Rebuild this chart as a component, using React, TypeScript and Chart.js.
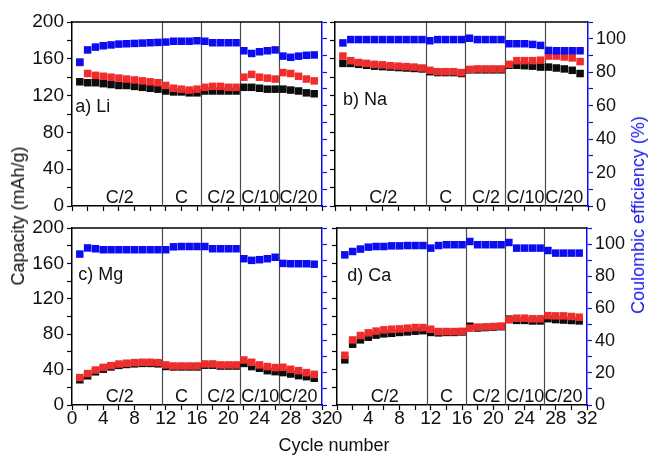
import React, { useEffect, useRef } from 'react';
import { Chart, registerables } from 'chart.js';

Chart.register(...registerables);

const FONT_FAMILY = '"Liberation Sans", Arial, sans-serif';
Chart.defaults.font.family = FONT_FAMILY;

// Cycle numbers (categories)
const cycles = [1, 2, 3, 4, 5, 6, 7, 8, 9, 10, 11, 12, 13, 14, 15, 16, 17, 18, 19, 20, 21, 22, 23, 24, 25, 26, 27, 28, 29, 30, 31];

// a) Li
const liCharge = [156, 144, 142, 141, 140, 139, 138, 137, 136, 135, 134, 131, 128, 127, 126, 127, 129, 130, 130, 129, 129, 140, 143, 140, 139, 138, 145, 144, 141, 138, 136];
const liDischarge = [135, 134, 134, 133, 132, 131, 131, 130, 129, 128, 127, 125, 124, 124, 123, 123, 125, 125, 125, 125, 125, 129, 129, 128, 127, 127, 127, 126, 125, 123, 122];
const liCE = [86, 93.3, 95, 95.8, 96.3, 96.8, 97, 97.2, 97.4, 97.6, 97.8, 98, 98.5, 98.5, 98.5, 98.8, 98.5, 97.6, 97.6, 97.6, 97.6, 92.8, 91.2, 92.2, 92.8, 93.3, 89.6, 88.9, 89.6, 90.1, 90.3];

// b) Na
const naCharge = [163, 158, 156, 155, 154, 153.5, 152.5, 152, 151.5, 151, 150, 147.5, 146, 146, 146, 145, 148.5, 149, 149, 149, 149, 154, 158, 158, 158, 158.5, 163, 163, 162, 161, 157];
const naDischarge = [155, 155, 154, 153, 152, 151.5, 151, 150.5, 150, 149.5, 149, 146, 145, 145, 145, 144, 148, 148, 148, 148, 148, 153, 153, 152.5, 152, 151, 151, 150, 149, 147.5, 144];
const naCE = [97.5, 99.5, 99.5, 99.5, 99.5, 99.5, 99.5, 99.5, 99.5, 99.5, 99.5, 98.8, 99.5, 99.5, 99.5, 99.5, 100.3, 99.5, 99.5, 99.5, 99.5, 97, 97, 97, 96.6, 96, 93, 92.8, 92.8, 92.8, 92.8];

// c) Mg
const mgCharge = [31, 35.5, 39.5, 42.5, 44.5, 46.3, 47.2, 47.9, 48.3, 48.3, 47.9, 45.3, 44.1, 44.1, 44.1, 44.1, 46.4, 46.4, 45.3, 45.3, 45.3, 50.9, 48.3, 45.3, 43.4, 42.3, 42.6, 40.4, 38.8, 36.6, 34.7];
const mgDischarge = [28.5, 33, 37.5, 40.5, 43, 44.8, 45.8, 46.5, 47, 47, 46.5, 43.5, 43, 43, 43, 43, 45, 45, 44, 44, 44, 47, 43.4, 41.5, 38.8, 37.7, 36.6, 35, 33.2, 32, 30.2];
const mgCE = [93.8, 97.6, 97.1, 96.5, 96.5, 96.5, 96.5, 96.5, 96.5, 96.5, 96.5, 96.5, 98.3, 98.5, 98.5, 98.5, 98.5, 97.1, 97.1, 97.1, 97.1, 90.9, 89.9, 90.3, 90.9, 91.8, 88, 87.8, 87.8, 87.8, 87.5];

// d) Ca
const caCharge = [56.2, 73.5, 78.5, 81.5, 83.5, 84.9, 85.6, 86, 86.8, 87.5, 87.5, 85.6, 83, 83, 83, 83.3, 86.8, 88, 88.3, 88.7, 89.2, 96.2, 98.1, 98.1, 97.4, 97.4, 101, 100.7, 100.7, 100, 99.2];
const caDischarge = [51, 68.7, 73.6, 76.6, 79, 80.4, 81, 82, 82.6, 83.4, 84, 82, 81.5, 82, 82, 82.5, 89, 87, 87.5, 88, 88.5, 97, 95.6, 95.6, 95, 95, 97.5, 96.5, 96, 95.5, 95];
const caCE = [93.3, 95.4, 96.9, 98.1, 98.5, 98.5, 98.9, 98.9, 99.1, 99.1, 99.1, 97.5, 99.1, 99.6, 99.6, 99.6, 101.6, 99.6, 99.6, 99.6, 99.6, 101, 97.5, 97.5, 97.5, 97.5, 96, 94.4, 94.4, 94.4, 94.4];

// Rate annotations
const rateLabels = ['C/2', 'C', 'C/2', 'C/10', 'C/20'];
const rateLabelCycles = [6.1, 14, 19.1, 24.1, 29];
const rateBoundaries = [11.5, 16.5, 21.5, 26.5];
const rateLabelCapacity = 9;

const BLUE = '#0c0cf0';
const RED = '#f02c2c';
const BLACK = '#0d0d0d';
const TXT = '#111111';

type Box = { l: number; r: number; t: number; b: number };
type Panel = {
  name: string;
  charge: number[];
  discharge: number[];
  ce: number[];
  box: Box;
  leftLabels: boolean;
  rightLabels: boolean;
  xLabels: boolean;
  nameAt: [number, number];
};

const panels: Panel[] = [
  { name: 'a) Li', charge: liCharge, discharge: liDischarge, ce: liCE, box: { l: 72, r: 322, t: 22, b: 206 }, leftLabels: true, rightLabels: false, xLabels: false, nameAt: [0.4, 107.5] },
  { name: 'b) Na', charge: naCharge, discharge: naDischarge, ce: naCE, box: { l: 335, r: 588, t: 22, b: 206 }, leftLabels: false, rightLabels: true, xLabels: false, nameAt: [1.0, 115] },
  { name: 'c) Mg', charge: mgCharge, discharge: mgDischarge, ce: mgCE, box: { l: 72, r: 322, t: 228, b: 405 }, leftLabels: true, rightLabels: false, xLabels: true, nameAt: [0.8, 147] },
  { name: 'd) Ca', charge: caCharge, discharge: caDischarge, ce: caCE, box: { l: 337, r: 587, t: 228, b: 405 }, leftLabels: false, rightLabels: true, xLabels: true, nameAt: [1.3, 146] },
];

const W = 648;
const H = 456;

function buildChart(canvas: HTMLCanvasElement, p: Panel) {
  const toPts = (arr: number[]) => cycles.map((c, i) => ({ x: c, y: arr[i] }));
  const leftW = p.leftLabels ? p.box.l : 10;
  const rightW = p.rightLabels ? 50 : 10;
  const xH = p.xLabels ? 30 : 10;

  const deco = {
    id: 'deco',
    beforeDatasetsDraw(chart: any) {
      const { ctx, chartArea: a, scales } = chart;
      const xs = scales.x;
      const ys = scales.y;
      ctx.save();
      ctx.strokeStyle = '#4a4a4a';
      ctx.lineWidth = 1.2;
      rateBoundaries.forEach((v) => {
        const px = Math.round(xs.getPixelForValue(v)) + 0.5;
        ctx.beginPath();
        ctx.moveTo(px, a.top);
        ctx.lineTo(px, a.bottom);
        ctx.stroke();
      });
      ctx.strokeStyle = '#000';
      ctx.lineWidth = 1.5;
      ctx.beginPath();
      ctx.moveTo(a.left, a.top);
      ctx.lineTo(a.right, a.top);
      ctx.stroke();
      ctx.fillStyle = TXT;
      ctx.font = `18px ${FONT_FAMILY}`;
      ctx.textAlign = 'center';
      ctx.textBaseline = 'middle';
      rateLabels.forEach((t, i) => {
        ctx.fillText(t, xs.getPixelForValue(rateLabelCycles[i]), ys.getPixelForValue(rateLabelCapacity));
      });
      ctx.textAlign = 'left';
      ctx.fillText(p.name, xs.getPixelForValue(p.nameAt[0]), ys.getPixelForValue(p.nameAt[1]));
      ctx.restore();
    },
  };

  const pointStyle = (color: string) => ({
    showLine: false,
    pointStyle: 'rect' as const,
    pointRadius: 5.3,
    pointHoverRadius: 5.3,
    backgroundColor: color,
    borderColor: color,
    borderWidth: 0,
    pointBorderWidth: 0,
  });

  return new Chart(canvas, {
    type: 'scatter',
    data: {
      datasets: [
        { label: 'Coulombic efficiency', data: toPts(p.ce), yAxisID: 'y1', ...pointStyle(BLUE) },
        { label: 'Charge', data: toPts(p.charge), yAxisID: 'y', ...pointStyle(RED) },
        { label: 'Discharge', data: toPts(p.discharge), yAxisID: 'y', ...pointStyle(BLACK) },
      ],
    },
    options: {
      responsive: false,
      maintainAspectRatio: false,
      animation: false,
      devicePixelRatio: 1,
      events: [],
      layout: {
        padding: {
          left: p.box.l - leftW,
          right: W - p.box.r - rightW,
          top: p.box.t,
          bottom: H - p.box.b - xH,
        },
      },
      plugins: { legend: { display: false }, tooltip: { enabled: false } },
      scales: {
        x: {
          type: 'linear',
          position: 'bottom',
          min: 0,
          max: 32,
          afterFit: (s: any) => { s.height = xH; },
          ticks: {
            stepSize: 2,
            autoSkip: false,
            maxRotation: 0,
            padding: -3,
            color: TXT,
            font: { size: 19 },
            callback: (v: any) => (p.xLabels && Number(v) % 4 === 0 ? String(v) : ''),
          },
          grid: { drawOnChartArea: false, tickLength: 5, tickColor: '#000', tickWidth: 1.2 },
          border: { color: '#000', width: 1.5 },
        },
        y: {
          type: 'linear',
          position: 'left',
          min: 0,
          max: 200,
          afterFit: (s: any) => { s.width = leftW; },
          ticks: {
            stepSize: 20,
            autoSkip: false,
            padding: 3,
            color: TXT,
            font: { size: 19 },
            callback: (v: any) => (p.leftLabels && Number(v) % 40 === 0 ? String(v) : ''),
          },
          grid: { drawOnChartArea: false, tickLength: 5, tickColor: '#000', tickWidth: 1.2 },
          border: { color: '#000', width: 1.5 },
        },
        y1: {
          type: 'linear',
          position: 'right',
          min: 0,
          max: 110,
          afterFit: (s: any) => { s.width = rightW; },
          ticks: {
            stepSize: 10,
            autoSkip: false,
            padding: 3,
            color: TXT,
            font: { size: 18 },
            callback: (v: any) => (p.rightLabels && Number(v) % 20 === 0 && Number(v) <= 100 ? String(v) : ''),
          },
          grid: { drawOnChartArea: false, tickLength: 5, tickColor: BLUE, tickWidth: 1.2 },
          border: { color: BLUE, width: 1.5 },
        },
      },
    },
    plugins: [deco],
  } as any);
}

export default function App() {
  const refs = useRef<(HTMLCanvasElement | null)[]>([]);

  useEffect(() => {
    document.body.style.margin = '0';
    const charts = panels.map((p, i) => buildChart(refs.current[i] as HTMLCanvasElement, p));
    return () => charts.forEach((c) => c.destroy());
  }, []);

  const titleFont = `18px ${FONT_FAMILY}`;

  return (
    <div style={{ position: 'fixed', left: 0, top: 0, width: W, height: H, background: '#fff', overflow: 'hidden' }}>
      {panels.map((p, i) => (
        <canvas
          key={p.name}
          ref={(el) => { refs.current[i] = el; }}
          width={W}
          height={H}
          style={{ position: 'absolute', left: 0, top: 0, width: W, height: H }}
        />
      ))}
      <div style={{ position: 'absolute', left: 18, top: 216, transform: 'translate(-50%,-50%) rotate(-90deg)', whiteSpace: 'nowrap', font: titleFont, color: TXT, lineHeight: '1' }}>
        Capacity (mAh/g)
      </div>
      <div style={{ position: 'absolute', left: 638, top: 215, transform: 'translate(-50%,-50%) rotate(-90deg)', whiteSpace: 'nowrap', font: titleFont, color: '#1a1aee', lineHeight: '1' }}>
        Coulombic efficiency (%)
      </div>
      <div style={{ position: 'absolute', left: 334, top: 445, transform: 'translate(-50%,-50%)', whiteSpace: 'nowrap', font: titleFont, color: TXT, lineHeight: '1' }}>
        Cycle number
      </div>
    </div>
  );
}
